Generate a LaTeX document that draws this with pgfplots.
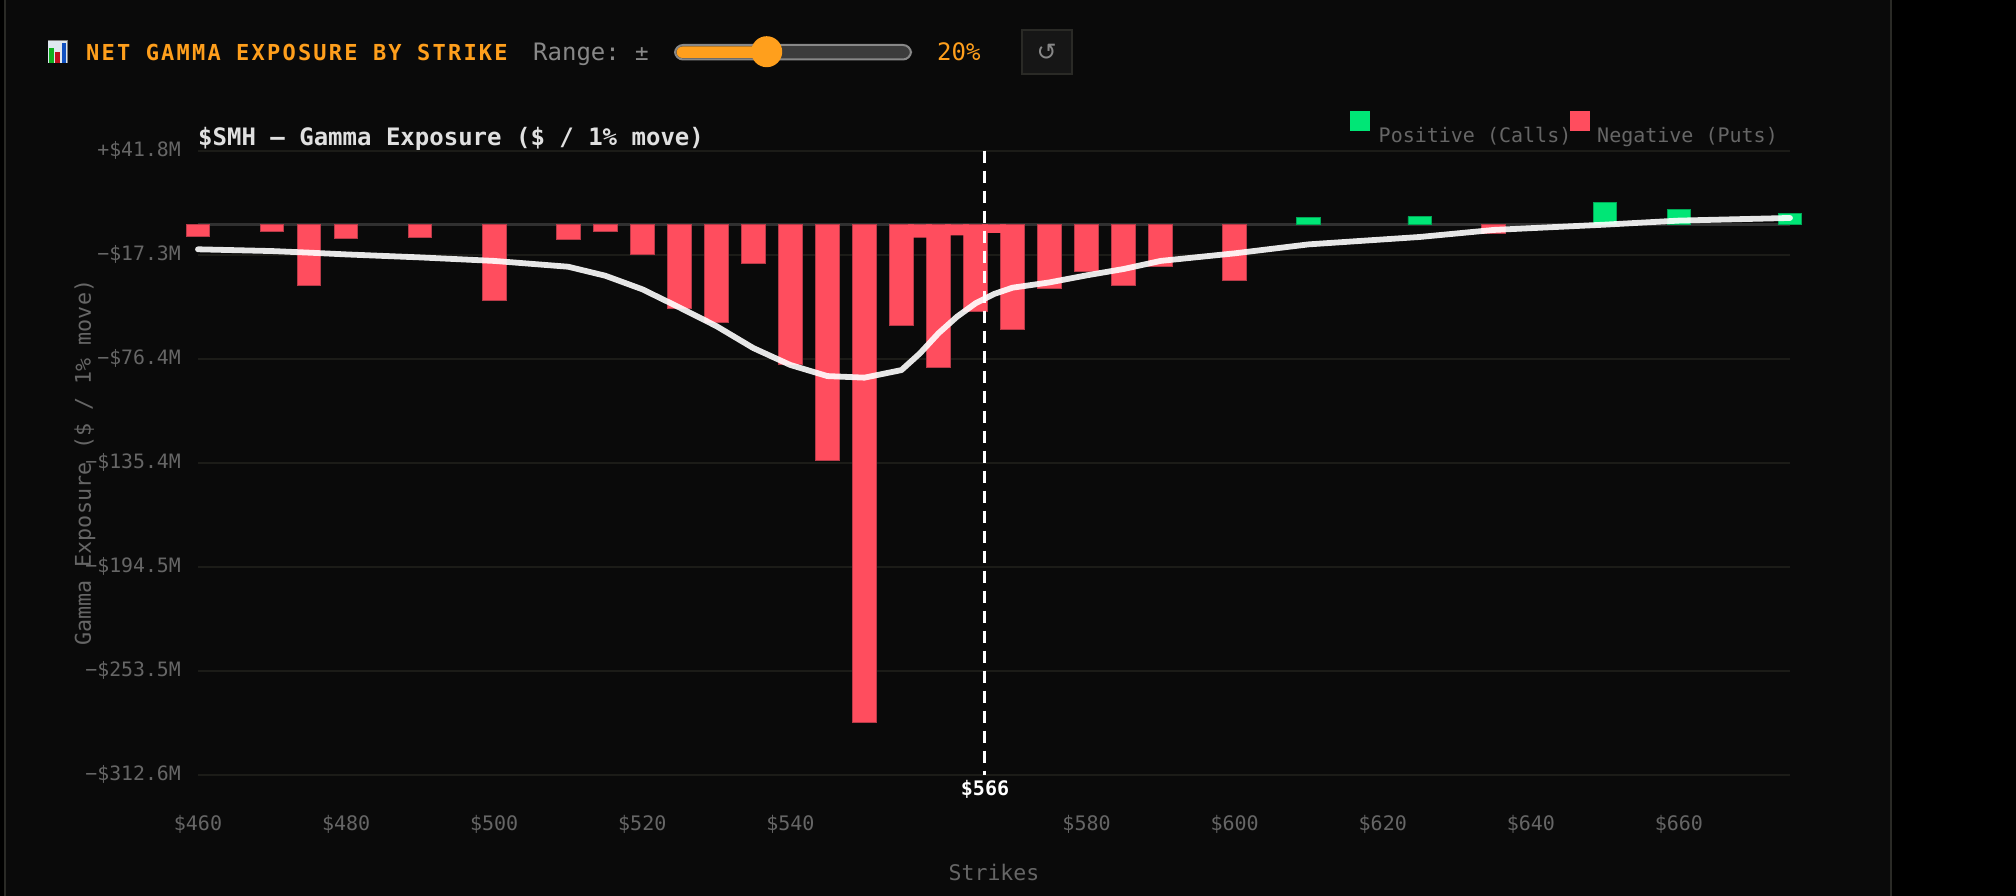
\documentclass[border=0pt]{standalone}
\usepackage{fontspec}
\usepackage{pgfplots}
\pgfplotsset{compat=1.18}
\setmainfont{DejaVu Sans Mono}
\newfontfamily\titlefont[LetterSpace=10]{DejaVu Sans Mono Bold}
\newfontfamily\boldmono{DejaVu Sans Mono Bold}
\newfontfamily\dejavu{DejaVu Sans}
\newcommand{\fs}[1]{\fontsize{#1pt}{#1pt}\selectfont}
\definecolor{pagebg}{HTML}{0A0A0A}
\definecolor{edgec}{HTML}{2A2A26}
\definecolor{gridc}{HTML}{1C1C18}
\definecolor{zeroc}{HTML}{303030}
\definecolor{tickc}{HTML}{666666}
\definecolor{redbar}{HTML}{FF4D5E}
\definecolor{redline}{HTML}{B83A48}
\definecolor{greenbar}{HTML}{00E676}
\definecolor{greenline}{HTML}{00A855}
\definecolor{orangec}{HTML}{FF9F1C}
\definecolor{rangec}{HTML}{888888}
\definecolor{icbg}{HTML}{DFE8F0}
\definecolor{icg}{HTML}{10B020}
\definecolor{icr}{HTML}{C01020}
\definecolor{icb}{HTML}{1050C0}
\definecolor{trackc}{HTML}{3C3C3C}
\definecolor{btnc}{HTML}{161616}
\definecolor{titlec}{HTML}{E0E0E0}
\begin{document}
\begin{tikzpicture}[x=1pt,y=-1pt]
\useasboundingbox (0,0) rectangle (2016,896);
\fill[black] (0,0) rectangle (2016,896);
\fill[pagebg] (5,0) rectangle (1891,896);
\draw[edgec,line width=2pt] (5,0) -- (5,896);
\draw[edgec,line width=2pt] (1891,0) -- (1891,896);
% header icon
\fill[gray] (47.5,40) rectangle (67.7,63.3);
\fill[icbg] (48.3,40.8) rectangle (67,62.6);
\fill[icg] (49,48) rectangle (53.7,62.6);
\fill[icr] (55.3,52) rectangle (60,62.6);
\fill[icb] (61.7,43) rectangle (66.3,62.6);
% header text
\node[anchor=base west,inner sep=0pt,text=orangec] at (86,60.5) {\titlefont\fs{22}NET GAMMA EXPOSURE BY STRIKE};
\node[anchor=base west,inner sep=0pt,text=rangec] at (533,60.5) {\fs{24}Range:};
\node[anchor=base west,inner sep=0pt,text=rangec] at (635,60.5) {\fs{22.5}±};
% slider
\fill[trackc,rounded corners=8pt,draw=rangec,line width=2pt] (675,45) rectangle (911,59.5);
\fill[orangec,rounded corners=6pt] (676.5,46.5) rectangle (770,58);
\fill[orangec] (766.7,51.7) circle (15.5);
\node[anchor=base west,inner sep=0pt,text=orangec] at (937,60.5) {\fs{24}20\%};
% reset button
\filldraw[fill=btnc,draw=edgec,line width=2pt] (1022,30) rectangle (1072,74);
\node[anchor=center,inner sep=0pt,text=rangec] at (1046.7,52.5) {\dejavu\fs{24}↺};
% axis
\begin{axis}[
  at={(198pt,-774.7pt)},anchor=south west,
  scale only axis,width=1592pt,height=624pt,
  xmin=460,xmax=675,ymin=-312.6,ymax=41.8,
  clip=false,
  axis line style={draw=none},
  major tick length=0pt,
  tick style={draw=none},
  xtick={460,480,500,520,540,580,600,620,640,660},
  xticklabels={\$460,\$480,\$500,\$520,\$540,\$580,\$600,\$620,\$640,\$660},
  ytick={41.8,-17.3,-76.4,-135.4,-194.5,-253.5,-312.6},
  yticklabels={+\$41.8M,−\$17.3M,−\$76.4M,−\$135.4M,−\$194.5M,−\$253.5M,−\$312.6M},
  ymajorgrids=true,
  grid style={gridc,line width=2pt},
  xticklabel style={anchor=base,inner sep=0pt,yshift=-55.3pt,text=tickc,font=\fs{20}},
  yticklabel style={anchor=east,inner sep=0pt,xshift=-17pt,yshift=0pt,text=tickc,font=\fs{19.8}},
  xlabel={Strikes},
  ylabel={Gamma Exposure (\$ / 1\% move)},
  xlabel style={at={(axis description cs:0.5,0)},anchor=base,inner sep=0pt,yshift=-105.3pt,text=tickc,font=\fs{21.5}},
  ylabel style={at={(axis description cs:0,0.5)},anchor=center,inner sep=0pt,yshift=113pt,text=tickc,font=\fs{21.7}},
]
\addplot[zeroc,line width=2.5pt,forget plot] coordinates {(460,0)(675,0)};
\addplot[ybar,bar width=23.7pt,bar shift=0pt,fill=redbar,draw=redline,line width=1pt,forget plot] coordinates {
(460,-7.1)(470,-4.3)(475,-34.6)(480,-7.9)(490,-7.3)(500,-43.4)(510,-8.4)(515,-3.9)(520,-17.3)
(525,-47.7)(530,-55.9)(535,-22.2)(540,-79.5)(545,-134.3)(550,-283)(555,-57.4)
(560,-81.2)(565,-49.4)(570,-59.6)(575,-36.7)(580,-26.6)(585,-34.8)
(590,-24)(600,-32)(635,-5)};
\addplot[ybar,bar width=23.7pt,bar shift=0pt,fill=redbar,draw=none,forget plot] coordinates {
(557.5,-7.6)(562.5,-6.3)(567.5,-4.9)};
\addplot[ybar,bar width=23.7pt,bar shift=0pt,fill=greenbar,draw=greenline,line width=0.8pt,forget plot] coordinates {
(610,3.7)(625,4.3)(650,12.2)(660,8.6)(675,6.1)};
\addplot[white,opacity=0.9,line width=5.8pt,line cap=round,line join=round,forget plot] coordinates {
(460,-14.2)(470,-15.2)(475,-16.1)(480,-17.1)(490,-18.8)(500,-20.8)(510,-24.1)(515,-29.2)(520,-36.9)
(525,-47.2)(530,-57.8)(535,-70.3)(540,-79.9)(545,-86.2)(550,-87.1)(555,-82.8)(557.5,-73.3)(560,-61.9)
(562.5,-52.5)(565,-44.9)(567.5,-39.6)(570,-36)(575,-33)(580,-29)(585,-25.4)(590,-20.8)(600,-16.5)
(610,-11.4)(625,-7.2)(635,-3.2)(650,-0.2)(660,2.1)(675,3.6)};
\addplot[white,line width=3pt,dash pattern=on 12pt off 8pt,forget plot] coordinates {(566.2,41.8)(566.2,-312.6)};
\end{axis}
% chart title, marker label, legend
\node[anchor=base west,inner sep=0pt,text=titlec] at (198,145.5) {\boldmono\fs{24}\$SMH — Gamma Exposure (\$ / 1\% move)};
\node[anchor=base,inner sep=0pt,text=white] at (985,795.5) {\boldmono\fs{20}\$566};
\fill[greenbar] (1350,111) rectangle (1370,131);
\node[anchor=base west,inner sep=0pt,text=tickc] at (1378.5,142.2) {\fs{20}Positive (Calls)};
\fill[redbar] (1570,111) rectangle (1590,131);
\node[anchor=base west,inner sep=0pt,text=tickc] at (1597,142.2) {\fs{20}Negative (Puts)};
\end{tikzpicture}
\end{document}
